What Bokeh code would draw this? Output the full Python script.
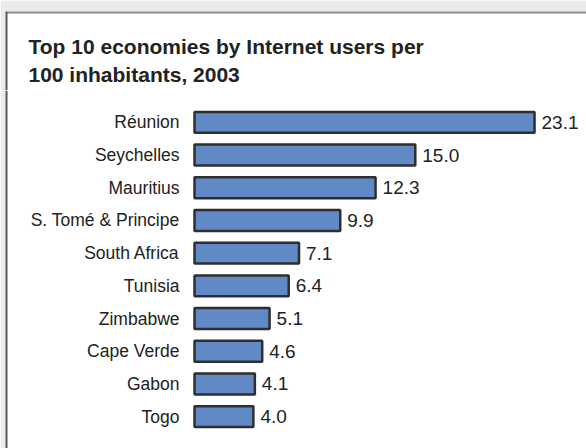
from bokeh.plotting import figure
from bokeh.layouts import column
from bokeh.models import ColumnDataSource, FactorRange, Range1d, Span, Label
from bokeh.core.properties import value
from bokeh.embed import file_html
from bokeh.resources import INLINE

countries = ["Réunion", "Seychelles", "Mauritius", "S. Tomé & Principe", "South Africa",
             "Tunisia", "Zimbabwe", "Cape Verde", "Gabon", "Togo"]
users_per_100 = [23.1, 15.0, 12.3, 9.9, 7.1, 6.4, 5.1, 4.6, 4.1, 4.0]
value_labels = ["23.1", "15.0", "12.3", "9.9", "7.1", "6.4", "5.1", "4.6", "4.1", "4.0"]
title_lines = ["Top 10 economies by Internet users per", "100 inhabitants, 2003"]

FONT = "Liberation Sans"
PAGE = "#ebebed"
TXT = "#222222"

# ---- title strip (pixel-sized ranges) ----
t = figure(width=586, height=90, output_backend="svg", toolbar_location=None,
           x_range=Range1d(0, 581), y_range=Range1d(0, 79),
           x_axis_location=None, y_axis_location=None,
           min_border_left=5, min_border_top=11, min_border_right=0, min_border_bottom=0)
t.background_fill_color = "white"
t.border_fill_color = PAGE
t.outline_line_color = None
t.grid.visible = False
t.add_layout(Span(location=79, dimension="width", line_color="#8c8c8c", line_width=4))
t.add_layout(Span(location=0, dimension="height", line_color="#555555", line_width=4))
for i, line in enumerate(title_lines):
    t.add_layout(Label(x=23, y=44 - 28 * i, text=line, text_font=FONT, text_font_size="21px",
                       text_font_style="bold", text_color=TXT, text_baseline="alphabetic"))

# ---- bar chart ----
src = ColumnDataSource(dict(country=countries, val=users_per_100, lab=value_labels,
                            zero=[0] * len(countries)))

x0 = -12.84
p = figure(width=586, height=358, output_backend="svg", toolbar_location=None,
           y_range=FactorRange(factors=list(reversed(countries)), range_padding=0.0948),
           x_range=Range1d(x0, 26.63), x_axis_location=None, y_axis_location=None,
           min_border_left=5, min_border_right=0, min_border_top=0, min_border_bottom=0)
p.background_fill_color = "white"
p.border_fill_color = PAGE
p.outline_line_color = None
p.grid.visible = False
p.add_layout(Span(location=x0, dimension="height", line_color="#555555", line_width=4))

p.hbar(y="country", right="val", left=0, height=0.64, source=src,
       fill_color="#6089c6", line_color="#2e2e2e", line_width=2.5)
p.text(x="val", y="country", text="lab", source=src, x_offset=7,
       text_align="left", text_baseline="middle", text_font=value(FONT),
       text_font_size="19px", text_color=TXT)
p.text(x="zero", y="country", text="country", source=src, x_offset=-15,
       text_align="right", text_baseline="middle", text_font=value(FONT),
       text_font_size="17.5px", text_color=TXT)

layout = column(t, p, spacing=0)
open("out.html", "w").write(file_html(layout, INLINE))
